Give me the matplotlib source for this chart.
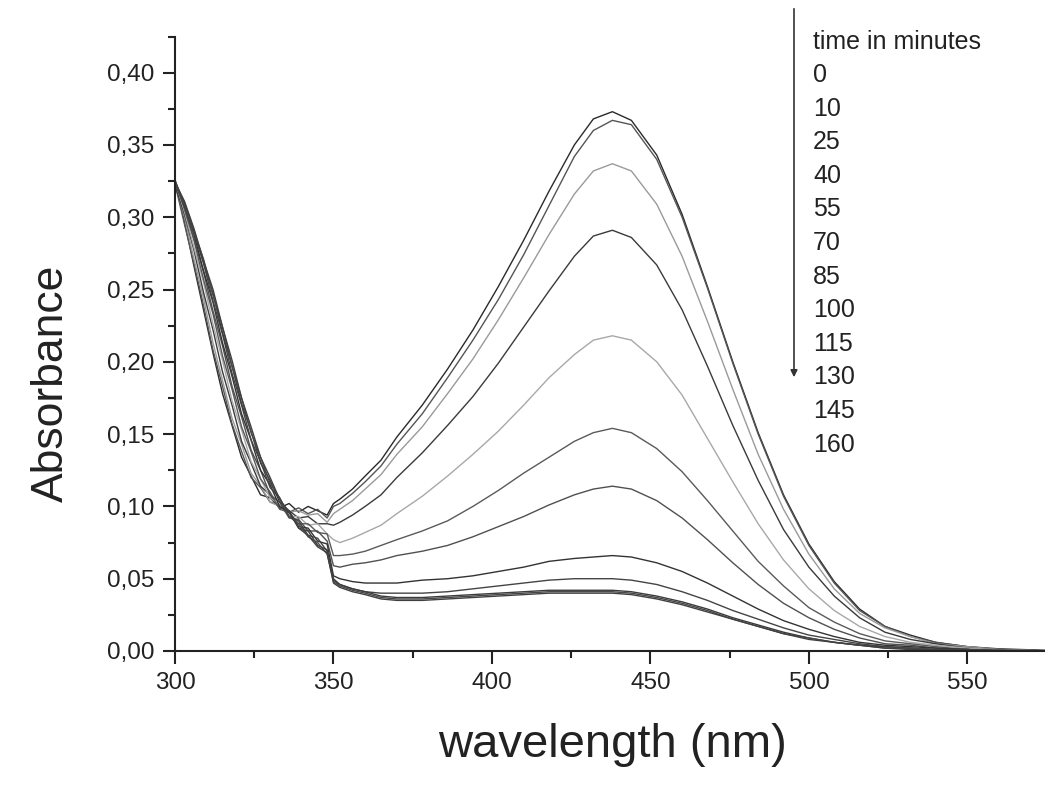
import matplotlib
matplotlib.use("Agg")
import matplotlib.pyplot as plt
from matplotlib.ticker import MultipleLocator

plt.rcParams['font.family'] = ['Liberation Sans', 'DejaVu Sans']

# wavelength grid (nm): UV part up to the lamp step, then the visible band
wl_uv = [300, 303, 306, 309, 312, 315, 318, 321, 324, 327, 330, 333, 336, 339, 342, 345, 348, 350]
wl_vis = [352, 356, 360, 365, 370, 378, 386, 394, 402, 410, 418, 426, 432, 438, 444,
          452, 460, 468, 476, 484, 492, 500, 508, 516, 524, 532, 540, 550, 560, 575]
wavelength = wl_uv + wl_vis

times = [0, 10, 25, 40, 55, 70, 85, 100, 115, 130, 145, 160]

abs_t0 = [0.325, 0.297, 0.266, 0.236, 0.206, 0.178, 0.156, 0.134, 0.121, 0.108, 0.106, 0.099, 0.102, 0.096, 0.100, 0.097, 0.094, 0.102,
          0.105, 0.112, 0.121, 0.132, 0.148, 0.170, 0.195, 0.222, 0.252, 0.284, 0.318, 0.350, 0.368, 0.373, 0.367,
          0.343, 0.302, 0.252, 0.200, 0.151, 0.108, 0.074, 0.048, 0.029, 0.017, 0.011, 0.006, 0.003, 0.0015, 0.0005]
abs_t10 = [0.323, 0.295, 0.268, 0.239, 0.208, 0.183, 0.157, 0.138, 0.120, 0.113, 0.103, 0.101, 0.096, 0.099, 0.095, 0.098, 0.092, 0.100,
           0.102, 0.109, 0.117, 0.128, 0.143, 0.164, 0.189, 0.215, 0.243, 0.274, 0.308, 0.342, 0.360, 0.367, 0.364,
           0.340, 0.300, 0.251, 0.199, 0.150, 0.107, 0.073, 0.047, 0.028, 0.017, 0.010, 0.006, 0.003, 0.001, 0.000]
abs_t25 = [0.324, 0.300, 0.271, 0.244, 0.213, 0.187, 0.161, 0.143, 0.123, 0.114, 0.103, 0.100, 0.096, 0.097, 0.094, 0.095, 0.089, 0.095,
           0.098, 0.104, 0.112, 0.122, 0.136, 0.155, 0.178, 0.202, 0.229, 0.258, 0.288, 0.316, 0.332, 0.337, 0.332,
           0.309, 0.273, 0.228, 0.181, 0.136, 0.098, 0.067, 0.043, 0.026, 0.016, 0.010, 0.005, 0.003, 0.001, 0.000]
abs_t40 = [0.322, 0.302, 0.277, 0.248, 0.222, 0.193, 0.170, 0.145, 0.130, 0.114, 0.108, 0.099, 0.097, 0.092, 0.093, 0.088, 0.088, 0.087,
           0.089, 0.094, 0.100, 0.108, 0.120, 0.137, 0.156, 0.176, 0.199, 0.224, 0.249, 0.273, 0.287, 0.291, 0.286,
           0.267, 0.236, 0.197, 0.156, 0.118, 0.084, 0.058, 0.038, 0.023, 0.013, 0.008, 0.005, 0.002, 0.001, 0.000]
abs_t55 = [0.325, 0.304, 0.279, 0.255, 0.226, 0.201, 0.173, 0.153, 0.131, 0.119, 0.106, 0.101, 0.093, 0.093, 0.087, 0.088, 0.081, 0.077,
           0.075, 0.078, 0.082, 0.087, 0.095, 0.107, 0.121, 0.136, 0.152, 0.170, 0.189, 0.205, 0.215, 0.218, 0.215,
           0.200, 0.177, 0.147, 0.117, 0.088, 0.063, 0.043, 0.028, 0.017, 0.010, 0.006, 0.004, 0.002, 0.001, 0.000]
abs_t70 = [0.324, 0.306, 0.284, 0.257, 0.233, 0.204, 0.181, 0.155, 0.138, 0.119, 0.110, 0.098, 0.096, 0.088, 0.088, 0.082, 0.081, 0.066,
           0.066, 0.067, 0.069, 0.073, 0.077, 0.083, 0.090, 0.100, 0.111, 0.123, 0.134, 0.145, 0.151, 0.154, 0.151,
           0.140, 0.124, 0.104, 0.083, 0.062, 0.045, 0.030, 0.020, 0.012, 0.007, 0.005, 0.003, 0.001, 0.001, 0.000]
abs_t85 = [0.326, 0.306, 0.285, 0.262, 0.235, 0.211, 0.183, 0.162, 0.139, 0.125, 0.108, 0.103, 0.092, 0.091, 0.083, 0.083, 0.076, 0.059,
           0.058, 0.060, 0.061, 0.063, 0.066, 0.069, 0.073, 0.079, 0.086, 0.093, 0.101, 0.108, 0.112, 0.114, 0.112,
           0.104, 0.092, 0.077, 0.061, 0.046, 0.033, 0.023, 0.015, 0.009, 0.005, 0.004, 0.002, 0.001, 0.000, 0.000]
abs_t100 = [0.325, 0.308, 0.288, 0.263, 0.241, 0.213, 0.190, 0.164, 0.146, 0.125, 0.115, 0.100, 0.096, 0.086, 0.085, 0.076, 0.074, 0.052,
            0.050, 0.048, 0.047, 0.047, 0.047, 0.049, 0.050, 0.052, 0.055, 0.058, 0.062, 0.064, 0.065, 0.066, 0.065,
            0.061, 0.055, 0.047, 0.038, 0.029, 0.021, 0.015, 0.010, 0.006, 0.004, 0.003, 0.002, 0.001, 0.000, 0.000]
abs_t115 = [0.324, 0.309, 0.289, 0.268, 0.242, 0.219, 0.192, 0.170, 0.146, 0.131, 0.113, 0.106, 0.093, 0.090, 0.080, 0.078, 0.069, 0.050,
            0.046, 0.043, 0.041, 0.040, 0.040, 0.040, 0.041, 0.043, 0.045, 0.047, 0.049, 0.050, 0.050, 0.050, 0.049,
            0.046, 0.041, 0.035, 0.028, 0.022, 0.016, 0.011, 0.008, 0.005, 0.003, 0.002, 0.001, 0.001, 0.000, 0.000]
abs_t130 = [0.325, 0.310, 0.291, 0.269, 0.247, 0.220, 0.197, 0.171, 0.152, 0.130, 0.118, 0.103, 0.097, 0.085, 0.083, 0.073, 0.070, 0.049,
            0.046, 0.043, 0.041, 0.038, 0.037, 0.037, 0.038, 0.039, 0.040, 0.041, 0.042, 0.042, 0.042, 0.042, 0.041,
            0.038, 0.034, 0.029, 0.023, 0.018, 0.013, 0.009, 0.006, 0.004, 0.003, 0.002, 0.001, 0.001, 0.000, 0.000]
abs_t145 = [0.323, 0.309, 0.290, 0.271, 0.246, 0.224, 0.197, 0.175, 0.151, 0.134, 0.116, 0.106, 0.093, 0.088, 0.079, 0.075, 0.067, 0.048,
            0.045, 0.042, 0.040, 0.037, 0.036, 0.036, 0.037, 0.038, 0.039, 0.040, 0.041, 0.041, 0.041, 0.041, 0.040,
            0.037, 0.033, 0.028, 0.022, 0.017, 0.012, 0.009, 0.006, 0.004, 0.002, 0.002, 0.001, 0.001, 0.000, 0.000]
abs_t160 = [0.324, 0.311, 0.292, 0.270, 0.250, 0.224, 0.201, 0.175, 0.155, 0.134, 0.120, 0.105, 0.096, 0.085, 0.080, 0.072, 0.068, 0.047,
            0.044, 0.041, 0.039, 0.036, 0.035, 0.035, 0.036, 0.037, 0.038, 0.039, 0.040, 0.040, 0.040, 0.040, 0.039,
            0.036, 0.032, 0.027, 0.022, 0.017, 0.012, 0.008, 0.006, 0.004, 0.002, 0.001, 0.001, 0.001, 0.000, 0.000]

curves = [abs_t0, abs_t10, abs_t25, abs_t40, abs_t55, abs_t70, abs_t85,
          abs_t100, abs_t115, abs_t130, abs_t145, abs_t160]
greys = ['#2a2a2a', '#555555', '#9a9a9a', '#3a3a3a', '#a8a8a8', '#5a5a5a', '#505050',
         '#333333', '#444444', '#3c3c3c', '#484848', '#404040']

xticks = [300, 350, 400, 450, 500, 550]
yticks = [0.0, 0.05, 0.10, 0.15, 0.20, 0.25, 0.30, 0.35, 0.40]
ytick_labels = ["0,00", "0,05", "0,10", "0,15", "0,20", "0,25", "0,30", "0,35", "0,40"]

W, H = 1045, 801
fig = plt.figure(figsize=(W / 100, H / 100), dpi=100)
ax = fig.add_axes([175 / W, 150 / H, 1 - 175 / W, 614.5 / H])

for a, c in zip(curves, greys):
    ax.plot(wavelength, a, color=c, lw=1.0)

ax.set_xlim(300, 574.5)
ax.set_ylim(0, 0.425)
ax.set_xticks(xticks)
ax.set_yticks(yticks)
ax.set_yticklabels(ytick_labels)
ax.xaxis.set_minor_locator(MultipleLocator(25))
ax.yaxis.set_minor_locator(MultipleLocator(0.025))
for s in ['top', 'right']:
    ax.spines[s].set_visible(False)
for s in ['left', 'bottom']:
    ax.spines[s].set_linewidth(1.5)
    ax.spines[s].set_color('#222222')
ax.tick_params(which='major', direction='out', length=9, width=1.5, labelsize=17.5, pad=6, colors='#222222')
ax.tick_params(which='minor', direction='out', length=5, width=1.5, colors='#222222')

fig.text(51 / W, 1 - 383 / H, "Absorbance", rotation=90, ha='center', va='center', fontsize=32, color='#222222')
fig.text(612 / W, 1 - 745 / H, "wavelength (nm)", ha='center', va='center', fontsize=34, color='#222222')

# time legend with arrow
ax.annotate('', xy=(794 / W, 1 - 380 / H), xytext=(794 / W, 1 - 6 / H),
            xycoords='figure fraction', textcoords='figure fraction',
            arrowprops=dict(arrowstyle='-|>', lw=1.2, color='#333333', mutation_scale=10))
fig.text(813 / W, 1 - 42 / H, "time in minutes", ha='left', va='center', fontsize=18, color='#222222')
for i, t in enumerate(times):
    fig.text(813 / W, 1 - (75 + i * 33.6) / H, str(t), ha='left', va='center', fontsize=18, color='#222222')

fig.savefig('out.png', dpi=100)
